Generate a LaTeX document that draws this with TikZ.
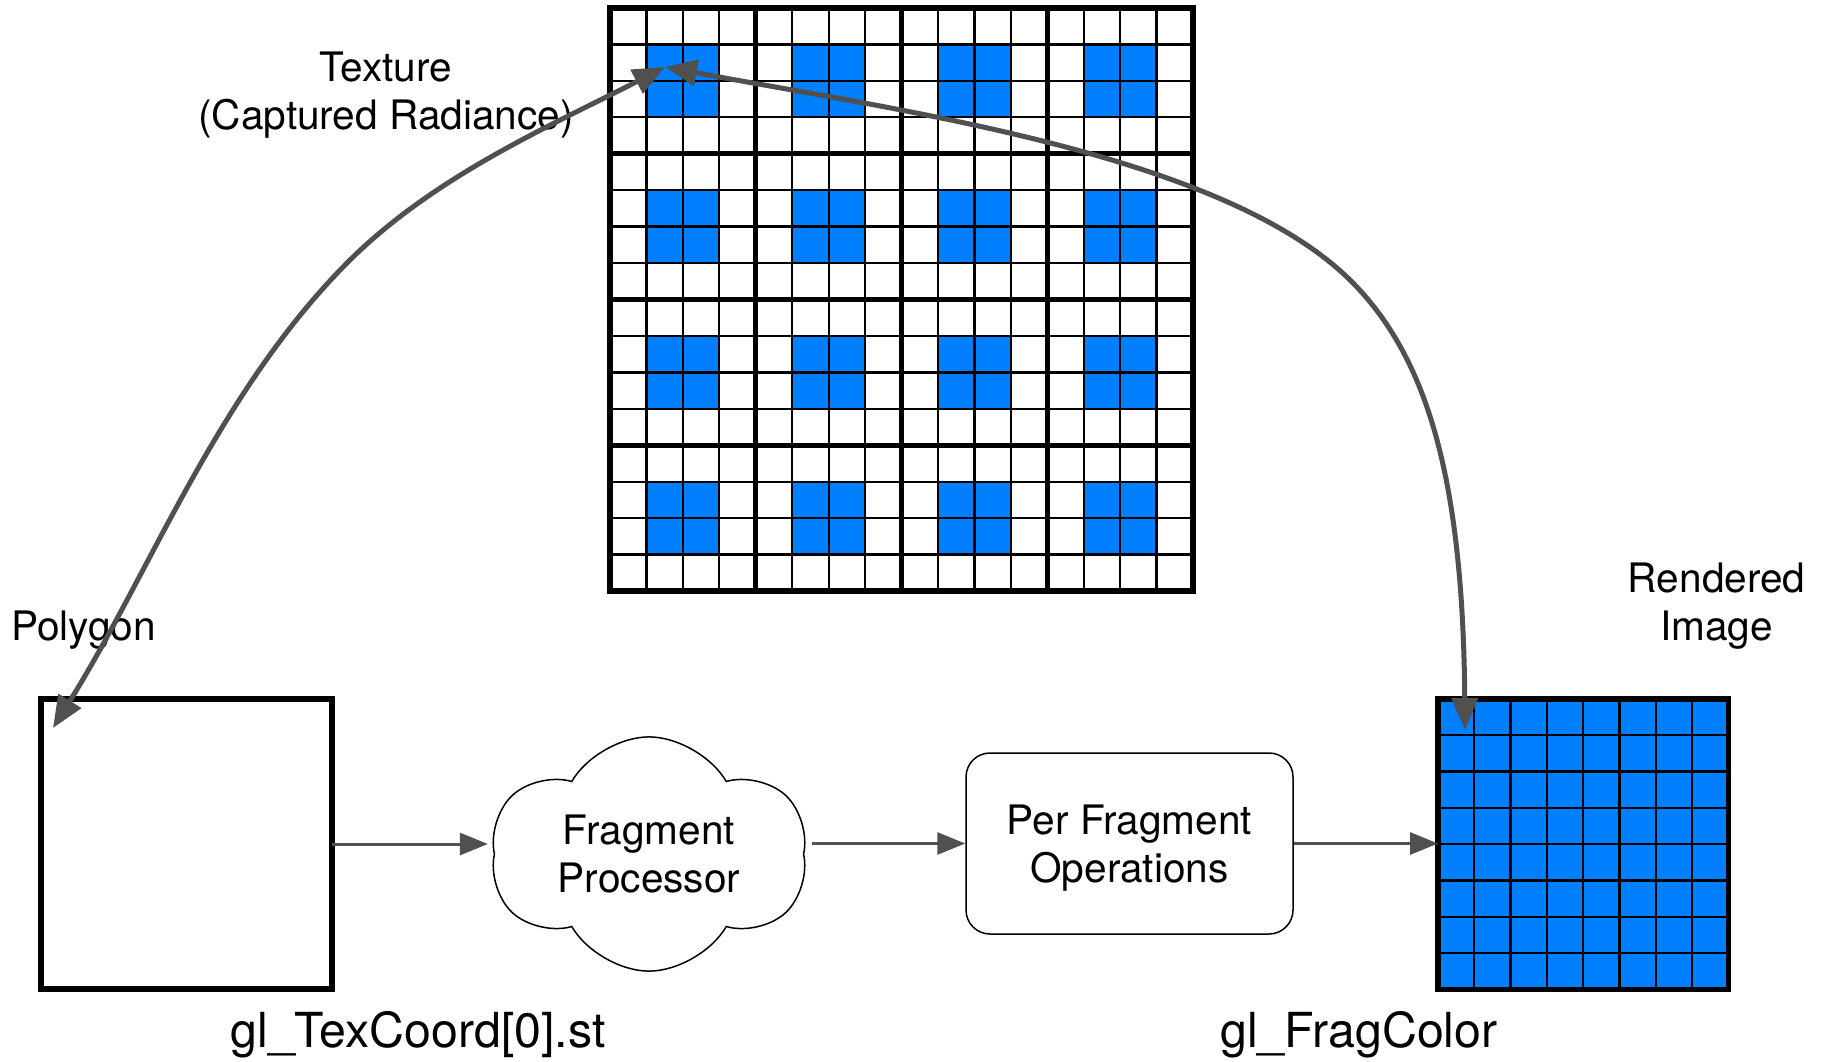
\documentclass[tikz,border=0pt]{standalone}
\usepackage{fontspec}
\setmainfont{TeX Gyre Heros}
\usetikzlibrary{arrows.meta,shapes.symbols}
\definecolor{pixblue}{RGB}{0,128,255}
\definecolor{linkgray}{RGB}{80,80,80}
\begin{document}
\begin{tikzpicture}[x=1pt,y=-1pt,
  lbl/.style={font=\fontsize{40.6}{48}\selectfont, inner sep=0pt, align=center},
  code/.style={font=\fontsize{48.3}{56}\selectfont, inner sep=0pt},
  flow/.style={draw=linkgray, line width=3pt, -{Triangle[length=28pt,width=22pt]}},
  link/.style={draw=linkgray, line width=5pt,
    {Triangle[length=32pt,width=26pt]}-{Triangle[length=32pt,width=26pt]}},
  frame/.style={draw=black, line width=5.5pt},
  thinline/.style={draw=black, line width=2.3pt},
  blockline/.style={draw=black, line width=5pt},
]
\useasboundingbox (0,0) rectangle (1823,1062);

% ---------- texture: 4x4 blocks of 4x4 texels, centre 2x2 of each block lit
\def\tx{610}\def\ty{8}\def\tc{36.44}
\foreach \bi in {0,...,3}
  \foreach \bj in {0,...,3}
    \fill[pixblue] ({\tx+(4*\bi+1)*\tc},{\ty+(4*\bj+1)*\tc}) rectangle +({2*\tc},{2*\tc});
\foreach \k in {1,...,15} {
  \draw[thinline] ({\tx+\k*\tc},\ty) -- ({\tx+\k*\tc},{\ty+16*\tc});
  \draw[thinline] (\tx,{\ty+\k*\tc}) -- ({\tx+16*\tc},{\ty+\k*\tc});
}
\foreach \k in {4,8,12} {
  \draw[blockline] ({\tx+\k*\tc},\ty) -- ({\tx+\k*\tc},{\ty+16*\tc});
  \draw[blockline] (\tx,{\ty+\k*\tc}) -- ({\tx+16*\tc},{\ty+\k*\tc});
}
\node[frame, anchor=north west, inner sep=0pt, outer sep=0pt,
      minimum width=583pt, minimum height=583pt] (tex) at (\tx,\ty) {};

% ---------- rendered image: 8x8 lit pixels
\def\rx{1438}\def\ry{699}\def\rc{36.3}
\node[fill=pixblue, anchor=north west, inner sep=0pt, outer sep=0pt,
      minimum width=290.4pt, minimum height=290.4pt] (render) at (\rx,\ry) {};
\foreach \k in {1,...,7} {
  \draw[thinline] ({\rx+\k*\rc},\ry) -- ({\rx+\k*\rc},{\ry+8*\rc});
  \draw[thinline] (\rx,{\ry+\k*\rc}) -- ({\rx+8*\rc},{\ry+\k*\rc});
}
\draw[frame] (render.north west) rectangle (render.south east);

% ---------- polygon
\node[frame, anchor=north west, inner sep=0pt, outer sep=0pt,
      minimum width=291pt, minimum height=290pt] (poly) at (41,699) {};

% ---------- fragment stages
\node[cloud, draw=black, line width=1.5pt, cloud puffs=6, cloud puff arc=120,
      shape border rotate=8, aspect=1.4,
      minimum width=316pt, minimum height=228pt, lbl]
      (cloud) at (649,854) {Fragment\\Processor};
\node[draw=black, line width=1.5pt, rounded corners=24pt, text depth=0pt,
      minimum width=327pt, minimum height=181pt, lbl]
      (pfo) at (1129.5,843.5) {Per Fragment\\Operations};

% ---------- labels
\node[lbl] (texlabel) at (386,95.6) {Texture\\(Captured Radiance)};
\node[lbl, anchor=base west] (polylabel) at (11,640) {Polygon};
\node[lbl] (renderlabel) at (1716.7,606.5) {Rendered\\Image};
\node[code, anchor=base] (texcoord) at (418,1047) {gl\_TexCoord[0].st};
\node[code, anchor=base] (fragcolor) at (1359,1047) {gl\_FragColor};

% ---------- pipeline arrows
\draw[flow, shorten >=6pt] (poly.east) -- (poly.east -| cloud.west);
\draw[flow] ([xshift=8pt]cloud.east |- pfo.west) -- (pfo.west);
\draw[flow] (pfo.east) -- (pfo.east -| render.west);

% ---------- texture lookups
\coordinate (texhit) at (665,67);
\coordinate (polyhit) at (53,728);
\coordinate (renderhit) at (1465,730);
\draw[link] (polyhit) .. controls (151,571) and (219,390) .. (350,260)
            .. controls (437,174) and (555.5,123.6) .. (texhit);
\draw[link] (texhit) .. controls (902,111) and (1222,154) .. (1350,280)
            .. controls (1428,357) and (1463,480) .. (renderhit);
\end{tikzpicture}
\end{document}
